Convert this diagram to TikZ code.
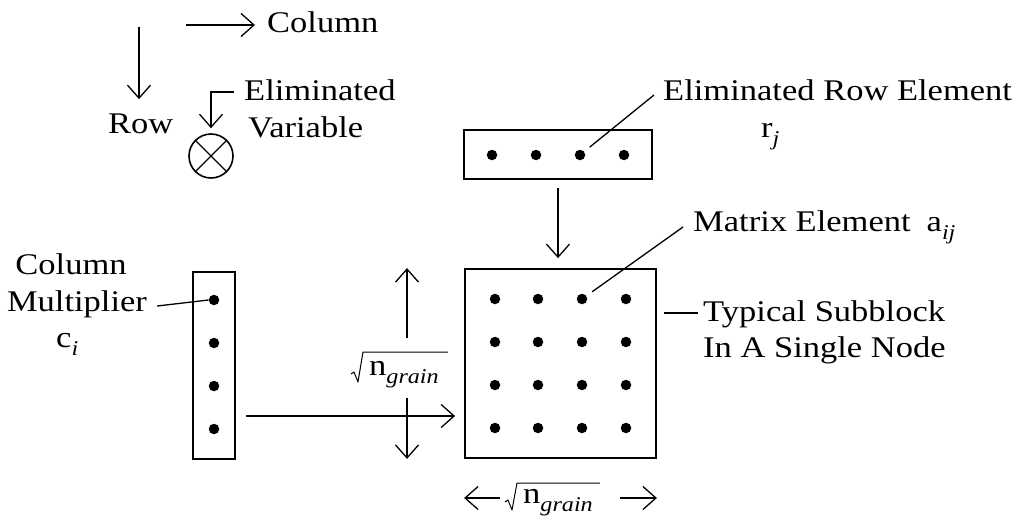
\documentclass[tikz,border=0pt]{standalone}
\usepackage{fontspec}
\setmainfont{Liberation Serif}[FakeStretch=1.15]
\usepackage{tikz}
\usetikzlibrary{arrows.meta,calc,positioning}

% italic lowered index, as in a_ij or n_grain
\newcommand{\sub}[1]{\raisebox{-0.28em}{\fontsize{21}{21}\selectfont\itshape #1}}
% radical sign drawn over a label node: node, overhang, height above baseline
\newcommand{\rootover}[3]{%
  \draw[line width=1pt,line join=round] ($(#1.base east)+(#2,-#3)$) -- ($(#1.base west)+(-6,-#3)$)
    -- ($(#1.base west)+(-11,7)$) -- ($(#1.base west)+(-15,-3)$) -- ++(-3,2);}

\tikzset{
  lbl/.style={font=\fontsize{30}{37}\selectfont,inner sep=0pt},
  blk/.style={draw,line width=1.8pt,inner sep=0pt},
  elt/.style={circle,fill,inner sep=0pt,minimum size=10.5pt},
  arr/.style={line width=1.3pt,-{Straight Barb[length=13pt,width=23pt,line width=1.3pt]}},
  lead/.style={line width=1.3pt},
}

\begin{document}
\begin{tikzpicture}[x=1pt,y=-1pt]
  \useasboundingbox (0,0) rectangle (1019,522);

  % legend
  \node[lbl,anchor=base west] (coltxt) at (267,32) {Column};
  \node[lbl,anchor=base west] (rowtxt) at (108,133) {Row};
  \coordinate (colstart) at (186,25);
  \coordinate (rowstart) at (139,27);
  \draw[arr,shorten >=12pt] (colstart) -- (colstart -| coltxt.west);
  \draw[arr,shorten >=14pt] (rowstart) -- (rowstart |- rowtxt.north);
  \node[lbl,anchor=base west] (elimtxt) at (244,100) {Eliminated};
  \node[lbl,anchor=base west] (vartxt) at (248,137) {Variable};
  \node[draw,circle,line width=1.6pt,minimum size=44pt,inner sep=0pt] (elim) at (211,156) {};
  \draw[line width=1.4pt] (elim.45) -- (elim.225) (elim.135) -- (elim.315);
  \draw[arr,shorten >=5pt] ($(elimtxt.base west)+(-10,-8)$) -| (elim.north);

  % blocks
  \node[blk,minimum width=188pt,minimum height=49pt] (rowblk) at (558,154.5) {};
  \node[blk,minimum width=191pt,minimum height=189pt] (sub) at (560.5,363.5) {};
  \node[blk,minimum width=42pt,minimum height=187pt] (colblk) at (214,365.5) {};
  \foreach \j/\x in {1/492,2/536,3/580,4/624} \node[elt] (r\j) at (\x,155) {};
  \foreach \i/\y in {1/299,2/342,3/385,4/428} {
    \node[elt] (c\i) at (214,\y+1) {};
    \foreach \j/\x in {1/495,2/538,3/582,4/626} \node[elt] (a\i\j) at (\x,\y) {};
  }

  % labels and leaders
  \node[lbl,anchor=base west] (eltxt) at (663,100) {Eliminated Row Element};
  \node[lbl,anchor=base west] (rtxt) at (761,137) {r\sub{j}};
  \coordinate (rtip) at ($(eltxt.base west)+(-9,-5)$);
  \draw[lead,shorten <=7pt] (r3) -- (rtip);
  \node[lbl,anchor=base west] (mattxt) at (693,231) {Matrix Element\hspace{16pt}a\sub{ij}};
  \coordinate (mtip) at ($(mattxt.base west)+(-10,-4)$);
  \draw[lead,shorten <=7pt] (a13) -- (mtip);
  \node[lbl,anchor=base west] (typtxt) at (703,321) {Typical Subblock};
  \node[lbl,anchor=base west] (nodetxt) at (703,357) {In A Single Node};
  \draw[lead] ($(typtxt.base west)+(-5,-8)$) -- ($(sub.east |- typtxt.base)+(7,-8)$);
  \node[lbl,anchor=base] (cmtxt) at (71,274) {Column};
  \node[lbl,anchor=base] (multtxt) at (77,311) {Multiplier};
  \node[lbl,anchor=base west] (ctxt) at (56,347) {c\sub{i}};
  \coordinate (ctip) at ($(multtxt.base east)+(10,-5)$);
  \draw[lead] (ctip) -- (c1.west);

  % flow into the subblock
  \draw[arr,shorten <=8pt,shorten >=10pt] (rowblk.south) -- (rowblk.south |- sub.north);
  \draw[arr,shorten <=10pt,shorten >=9pt] ($(colblk.east)+(0,50.5)$) -- ($(sub.west)+(0,52.5)$);

  % block size
  \node[lbl,anchor=base west] (vlbl) at (369,375) {n\sub{grain}};
  \rootover{vlbl}{9}{23}
  \coordinate (vup) at (407,338);
  \coordinate (vdn) at (407,398);
  \draw[arr] (vup) -- (vup |- sub.north);
  \draw[arr] (vdn) -- (vdn |- sub.south);
  \node[lbl,anchor=base west] (blbl) at (523,503) {n\sub{grain}};
  \rootover{blbl}{7}{20}
  \coordinate (bl) at (500,498);
  \coordinate (br) at (620,498);
  \draw[arr] (bl) -- (bl -| sub.west);
  \draw[arr] (br) -- (br -| sub.east);
\end{tikzpicture}
\end{document}
